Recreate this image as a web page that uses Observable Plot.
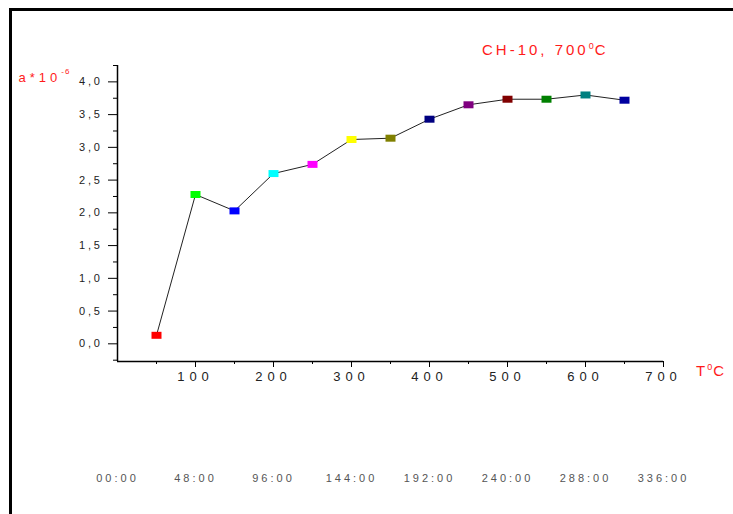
<!DOCTYPE html>
<html>
<head>
<meta charset="utf-8">
<script src="https://cdn.jsdelivr.net/npm/d3@7"></script>
<script src="https://cdn.jsdelivr.net/npm/@observablehq/plot@0.6"></script>
<style>
  body { margin: 0; background: #fff; }
  #wrap { position: relative; width: 733px; height: 514px; overflow: hidden; font-family: "Liberation Sans", Arial, sans-serif; }
  #frame { position: absolute; left: 9px; top: 8px; width: 760px; height: 600px; border-top: 3px solid #000; border-left: 3px solid #000; pointer-events: none; }
  .lab { position: absolute; color: #ff1a1a; line-height: 1; white-space: nowrap; }
  .lab .sup { vertical-align: 6px; }
</style>
</head>
<body>
<div id="wrap">
  <div id="chart"></div>
  <div id="frame"></div>
  <div class="lab" style="left:482px; top:41.6px; font-size:15px; letter-spacing:3px;">CH-10, 700<span class="sup" style="font-size:9px; letter-spacing:1px;">0</span>C</div>
  <div class="lab" style="left:18.5px; top:67.7px; font-size:13px; letter-spacing:4px;">a*10<span class="sup" style="font-size:8px; letter-spacing:1px; vertical-align:8px;">-6</span></div>
  <div class="lab" style="left:696px; top:362.5px; font-size:15px; letter-spacing:2px;">T<span class="sup" style="font-size:9px; letter-spacing:1px; vertical-align:6px;">0</span>C</div>
</div>
<script>
const temps = [50, 100, 150, 200, 250, 300, 350, 400, 450, 500, 550, 600, 650];
const values = [0.13, 2.28, 2.03, 2.60, 2.74, 3.12, 3.14, 3.43, 3.65, 3.735, 3.735, 3.80, 3.72];
const colors = ["#ff0000", "#00ff00", "#0000ff", "#00ffff", "#ff00ff", "#ffff00", "#808000", "#000080", "#800080", "#800000", "#008000", "#008080", "#0000a0"];
const xTicks = [100, 200, 300, 400, 500, 600, 700];
const xMinor = [50, 150, 250, 350, 450, 550, 650];
const yTicks = [0, 0.5, 1, 1.5, 2, 2.5, 3, 3.5, 4];
const yMinor = [-0.25, 0.25, 0.75, 1.25, 1.75, 2.25, 2.75, 3.25, 3.75, 4.25];
const timeTicks = [0, 100, 200, 300, 400, 500, 600, 700];
const timeLabels = ["00:00", "48:00", "96:00", "144:00", "192:00", "240:00", "288:00", "336:00"];

const data = temps.map((t, i) => ({t, v: values[i], c: colors[i]}));

const rectSymbol = {
  draw(ctx) { ctx.rect(-5, -3.5, 10, 7); }
};

const plot = Plot.plot({
  width: 733,
  height: 514,
  marginLeft: 117,
  marginRight: 70,
  marginTop: 65,
  marginBottom: 153,
  style: { fontFamily: "'Liberation Sans', Arial, sans-serif", background: "transparent", overflow: "visible" },
  x: { domain: [0, 700] },
  y: { domain: [-0.27, 4.25] },
  marks: [
    Plot.ruleX([0], { stroke: "#000", strokeWidth: 1.5 }),
    Plot.ruleY([-0.27], { stroke: "#000", strokeWidth: 1.5 }),
    Plot.axisY(yTicks, { tickSize: 9, tickPadding: 6, fontSize: 11, label: null, stroke: "#000", tickFormat: d => d.toFixed(1).replace(".", ",") }),
    Plot.axisY(yMinor, { tickSize: 4, label: null, stroke: "#000", tickFormat: () => "" }),
    Plot.axisX(xTicks, { tickSize: 6, tickPadding: 4, fontSize: 13, label: null, stroke: "#000", tickFormat: d => String(d) }),
    Plot.axisX(xMinor, { tickSize: 3, label: null, stroke: "#000", tickFormat: () => "" }),
    Plot.axisX(timeTicks, { tickSize: 0, tickPadding: 113, fontSize: 11, label: null, tickFormat: (d, i) => timeLabels[i] }),
    Plot.line(data, { x: "t", y: "v", stroke: "#222", strokeWidth: 1 }),
    Plot.dot(data, { x: "t", y: "v", fill: d => d.c, stroke: "none", symbol: rectSymbol, r: 5 })
  ]
});

document.getElementById("chart").appendChild(plot);

const xl = plot.querySelectorAll('g[aria-label="x-axis tick label"]');
xl.forEach((g, i) => {
  if (i === 0) { g.style.letterSpacing = "5px"; g.setAttribute("fill", "#222"); }
  else if (i === xl.length - 1) { g.style.letterSpacing = "3px"; g.setAttribute("fill", "#555"); }
});
const yl = plot.querySelectorAll('g[aria-label="y-axis tick label"]');
yl.forEach(g => { g.style.letterSpacing = "2.7px"; g.setAttribute("fill", "#222"); });
</script>
</body>
</html>
